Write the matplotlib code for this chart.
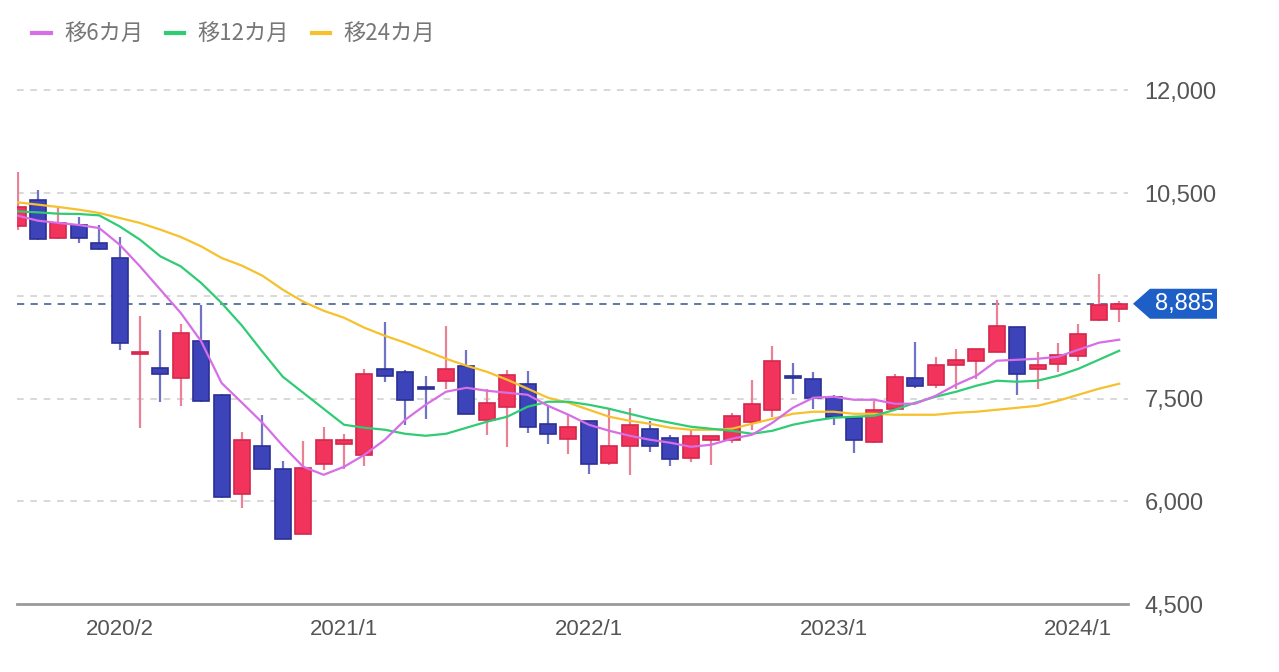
import matplotlib
matplotlib.use("Agg")
import matplotlib.pyplot as plt
import numpy as np
import pandas as pd
from matplotlib.lines import Line2D
from matplotlib.patches import Polygon

# monthly candles, 2019/9 .. 2024/3
months = pd.period_range("2019-09", "2024-03", freq="M")

opens = [10025, 10395, 9840, 10035, 9772, 9547, 8155, 7946, 7794, 8345,
         7552, 6110, 6811, 6475, 5521, 6538, 6840, 6679, 7936, 7888,
         7654, 7750, 7980, 7191, 7376, 7717, 7128, 6909, 7166, 6558,
         6801, 7059, 6918, 6631, 6899, 6899, 7157, 7337, 7823, 7790,
         7517, 7216, 6859, 7351, 7800, 7692, 7994, 8043, 8174, 8545,
         7931, 8005, 8116, 8652, 8812]
highs = [10804, 10541, 10284, 10152, 10035, 9860, 8700, 8495, 8593, 8867,
         7560, 7005, 7264, 6592, 6874, 7078, 6986, 7931, 8618, 7911,
         7834, 8554, 8203, 7644, 7921, 7907, 7395, 7274, 7166, 7347,
         7356, 7176, 6967, 7059, 6947, 7289, 7775, 8272, 8019, 7888,
         7546, 7216, 7468, 7858, 8320, 8107, 8228, 8228, 8934, 8545,
         8180, 8311, 8593, 9320, 8919]
lows = [9967, 9820, 9831, 9772, 9664, 8203, 7064, 7444, 7395, 7450,
        6050, 5895, 6475, 5448, 5521, 6450, 6470, 6519, 7742, 7108,
        7205, 7640, 7274, 6972, 6786, 6996, 6836, 6690, 6402, 6533,
        6383, 6713, 6519, 6573, 6533, 6850, 7045, 7230, 7566, 7347,
        7118, 6704, 6850, 7337, 7654, 7654, 7644, 7790, 8174, 7556,
        7640, 7888, 8043, 8637, 8612]
closes = [10298, 9831, 10065, 9840, 9685, 8311, 8184, 7863, 8457, 7464,
          6061, 6899, 6475, 5452, 6485, 6888, 6888, 7863, 7829, 7473,
          7640, 7931, 7274, 7429, 7848, 7078, 6982, 7078, 6544, 6811,
          7108, 6811, 6611, 6947, 6947, 7249, 7425, 8043, 7800, 7508,
          7230, 6899, 7337, 7809, 7677, 7984, 8057, 8228, 8554, 7863,
          7994, 8140, 8443, 8861, 8885]

ma6 = [10171, 10098, 10065, 10035, 9991, 9748, 9431, 9090, 8750, 8335,
       7727, 7439, 7147, 6811, 6504, 6387, 6504, 6679, 6899, 7191,
       7410, 7600, 7658, 7615, 7585, 7556, 7395, 7264, 7118, 7030,
       6957, 6899, 6855, 6796, 6826, 6913, 6972, 7147, 7366, 7512,
       7527, 7483, 7483, 7425, 7425, 7541, 7702, 7834, 8053, 8067,
       8082, 8111, 8214, 8316, 8360]
ma12 = [10234, 10220, 10200, 10196, 10176, 10015, 9821, 9577, 9431, 9188,
        8896, 8564, 8184, 7819, 7585, 7351, 7118, 7074, 7045, 6986,
        6957, 6986, 7074, 7162, 7235, 7381, 7454, 7454, 7410, 7351,
        7278, 7205, 7147, 7089, 7059, 7030, 6986, 7030, 7118, 7176,
        7220, 7235, 7249, 7337, 7439, 7527, 7600, 7688, 7761, 7746,
        7761, 7834, 7936, 8067, 8199]
ma24 = [10366, 10332, 10298, 10259, 10211, 10138, 10065, 9967, 9860, 9723,
        9553, 9441, 9295, 9090, 8915, 8783, 8681, 8535, 8418, 8316,
        8199, 8082, 7980, 7892, 7775, 7644, 7512, 7439, 7337, 7235,
        7176, 7132, 7074, 7045, 7045, 7059, 7132, 7205, 7278, 7308,
        7308, 7278, 7278, 7264, 7264, 7264, 7293, 7308, 7337, 7366,
        7395, 7468, 7556, 7644, 7717]

last_price = 8885
yticks = [4500, 6000, 7500, 9000, 10500, 12000]
hidden_ytick = 9000  # sits behind the price badge
xtick_labels = ["2020/2", "2021/1", "2022/1", "2023/1", "2024/1"]

UP = "#f2335b"
UP_EDGE = "#d6264c"
UP_WICK = "#ea8196"
DOWN = "#3d43b8"
DOWN_EDGE = "#2b3096"
DOWN_WICK = "#6f74c6"

W, H = 1279, 672
fig = plt.figure(figsize=(W / 100, H / 100), dpi=100)
ax = fig.add_axes([17 / W, 1 - 604 / H, 1111 / W, 544 / H])

x = np.arange(len(months))
o = np.array(opens)
c = np.array(closes)
up = c >= o

ax.vlines(x[up], np.array(lows)[up], np.array(highs)[up], color=UP_WICK, lw=1.6, zorder=2)
ax.vlines(x[~up], np.array(lows)[~up], np.array(highs)[~up], color=DOWN_WICK, lw=1.6, zorder=2)
body = np.maximum(np.abs(c - o), 25)
ax.bar(x[up], body[up], bottom=np.minimum(o, c)[up], width=0.78,
       color=UP, edgecolor=UP_EDGE, linewidth=1.2, zorder=3)
ax.bar(x[~up], body[~up], bottom=np.minimum(o, c)[~up], width=0.78,
       color=DOWN, edgecolor=DOWN_EDGE, linewidth=1.2, zorder=3)

ax.plot(x, ma24, color="#f6c12c", lw=1.6, zorder=4)
ax.plot(x, ma12, color="#2fcc74", lw=1.6, zorder=4)
ax.plot(x, ma6, color="#d66ee6", lw=1.6, zorder=4)

ax.axhline(last_price, color="#4f6e9e", lw=1.3, ls=(0, (4, 3.5)), zorder=1)
for v in yticks[1:]:
    ax.axhline(v, color="#d2d2d2", lw=1.2, ls=(0, (4, 4)), zorder=0)

ax.set_xlim(-0.03, 54.43)
ax.set_ylim(4500, 12445)

for s in ["top", "left", "right"]:
    ax.spines[s].set_visible(False)
ax.spines["bottom"].set_color("#9a9a9a")
ax.spines["bottom"].set_linewidth(2)

ax.yaxis.tick_right()
ax.set_yticks(yticks)
ax.set_yticklabels(["" if v == hidden_ytick else f"{v:,}" for v in yticks])
ax.tick_params(axis="y", length=0, pad=12, labelsize=17, labelcolor="#555555")
tick_idx = [list(months.strftime("%Y/%-m")).index(t) for t in xtick_labels]
ax.set_xticks(tick_idx)
ax.set_xticklabels(xtick_labels)
ax.tick_params(axis="x", length=0, pad=11, labelsize=16, labelcolor="#555555")
for lab in ax.get_xticklabels() + ax.get_yticklabels():
    lab.set_family("Liberation Sans")

# price badge at the right
fig.canvas.draw()
_, py = ax.transData.transform((0, last_price))
pts_px = [(1133, 0), (1150, 15), (1217, 15), (1217, -15), (1150, -15)]
inv = fig.transFigure.inverted()
pts = [inv.transform((px, py + dy)) for px, dy in pts_px]
fig.patches.append(Polygon(pts, closed=True, facecolor="#1d5fc6", edgecolor="none",
                           transform=fig.transFigure, zorder=5))
tx, ty = inv.transform((1184, py))
fig.text(tx, ty, f"{last_price:,}", color="white", fontsize=17, family="Liberation Sans",
         ha="center", va="center", zorder=6)

handles = [Line2D([], [], color="#d66ee6", lw=3),
           Line2D([], [], color="#2fcc74", lw=3),
           Line2D([], [], color="#f6c12c", lw=3)]
fig.legend(handles, ["移6カ月", "移12カ月", "移24カ月"], loc="center left",
           bbox_to_anchor=(12 / W, 1 - 34 / H), ncol=3, frameon=False,
           handlelength=0.85, handletextpad=0.6, columnspacing=1.0,
           prop={"family": ["Noto Sans CJK JP"], "size": 16}, labelcolor="#777777")

fig.savefig("out.png", dpi=100)
